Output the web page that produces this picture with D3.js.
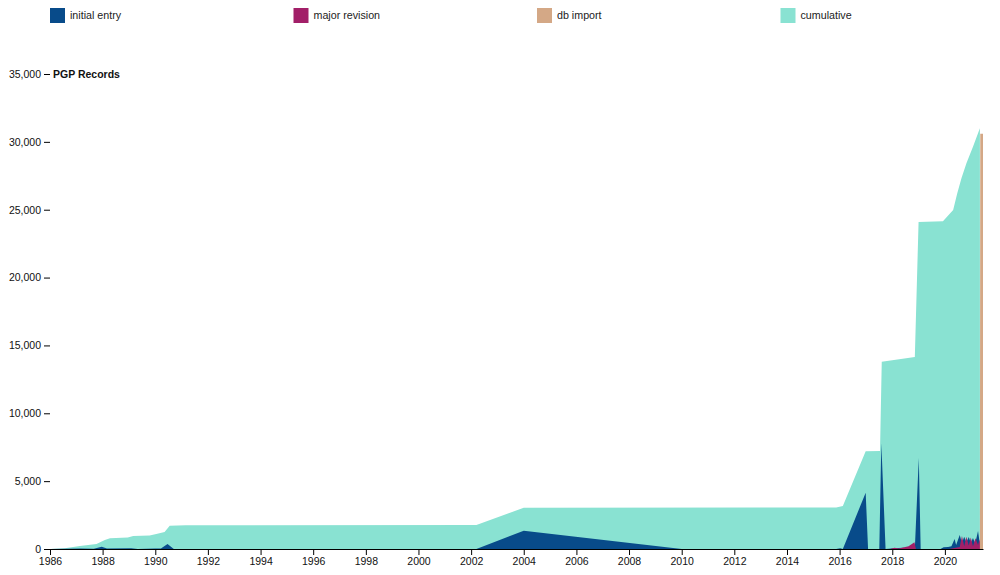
<!DOCTYPE html>
<html>
<head>
<meta charset="utf-8">
<script src="https://cdn.jsdelivr.net/npm/d3@7"></script>
<style>
  html, body { margin: 0; padding: 0; background: #fff; }
  svg { display: block; font-family: "Liberation Sans", Arial, Helvetica, sans-serif; }
</style>
</head>
<body>
<svg id="chart" width="1000" height="575"></svg>
<script>
// ---------- data ----------
const seriesNames = ["initial entry", "major revision", "db import", "cumulative"];
const seriesColors = ["#084b8a", "#a21f68", "#d4a886", "#89e2d2"];

const cumulativeDates = ["1986-01-01","1986-07-25","1987-02-20","1987-10-08","1988-02-01","1988-04-12","1988-12-15","1989-03-01","1989-10-15","1990-01-15","1990-05-10","1990-07-20","1991-03-01","2002-03-15","2004-01-01","2015-11-15","2016-02-15","2016-12-28","2017-07-15","2017-08-08","2018-11-10","2019-01-01","2019-12-05","2020-04-25","2020-06-20","2020-08-18","2020-10-26","2021-01-25","2021-04-10","2021-05-01"];
const cumulativeValues = [0,50,220,370,660,800,850,960,990,1100,1250,1720,1750,1760,3040,3060,3170,7200,7230,13800,14150,24100,24150,24970,26200,27320,28430,29640,30700,31000];

const entryDates = ["1986-01-01","1986-08-01","1987-03-01","1987-09-01","1987-12-20","1988-03-01","1989-02-01","1989-05-01","1990-01-01","1990-03-20","1990-06-20","1990-09-15","2002-03-15","2004-01-01","2010-01-01","2015-11-15","2016-01-10","2016-02-15","2016-12-28","2017-01-30","2017-07-05","2017-08-02","2017-09-30","2018-02-01","2018-06-01","2018-11-10","2019-01-04","2019-01-30","2019-11-01","2019-12-15","2020-02-15","2020-04-01","2020-05-15","2020-06-05","2020-07-25","2020-08-25","2020-09-25","2020-10-25","2020-11-28","2020-12-25","2021-01-25","2021-02-25","2021-04-05","2021-05-10"];
const entryValues = [0,20,30,20,170,30,60,0,40,30,370,0,0,1350,0,0,60,0,4150,0,0,7800,0,60,100,0,6700,0,0,120,150,200,740,300,1030,450,900,500,880,450,810,400,1330,0];

const revisionDates = ["1986-01-01","2017-12-01","2018-02-01","2018-04-01","2018-08-15","2018-11-05","2018-11-25","2020-03-01","2020-07-25","2020-08-25","2020-09-25","2020-10-25","2020-11-28","2020-12-25","2021-01-25","2021-03-01","2021-04-05","2021-04-25","2021-05-20"];
const revisionValues = [0,0,100,40,200,500,0,0,150,950,200,900,250,850,200,800,300,700,0];

const importDates = ["1986-01-01","2021-05-01","2021-05-06","2021-06-13"];
const importValues = [0,0,30600,30600];

const yTickLabelTitle = "PGP Records";

// ---------- build ----------
const parse = d3.utcParse("%Y-%m-%d");
const toPoints = (dates, values) => dates.map((d, i) => ({date: parse(d), value: values[i]}));
const series = [
  {name: seriesNames[3], color: seriesColors[3], points: toPoints(cumulativeDates, cumulativeValues)},
  {name: seriesNames[0], color: seriesColors[0], points: toPoints(entryDates, entryValues)},
  {name: seriesNames[1], color: seriesColors[1], points: toPoints(revisionDates, revisionValues)},
  {name: seriesNames[2], color: seriesColors[2], points: toPoints(importDates, importValues)}
];

const width = 1000, height = 575;
const margin = {top: 74, right: 17, bottom: 26, left: 50};

const allDates = series.flatMap(s => s.points.map(p => p.date));
const x = d3.scaleUtc()
  .domain(d3.extent(allDates))
  .range([margin.left, width - margin.right]);

const y = d3.scaleLinear()
  .domain([0, d3.max(cumulativeValues)]).nice()
  .range([height - margin.bottom, margin.top]);

const svg = d3.select("#chart");

const area = d3.area()
  .x(d => x(d.date))
  .y0(y(0))
  .y1(d => y(d.value));

svg.append("g")
  .selectAll("path")
  .data(series)
  .join("path")
  .attr("fill", d => d.color)
  .attr("d", d => area(d.points));

// x axis
svg.append("g")
  .attr("transform", `translate(0,${height - margin.bottom})`)
  .call(d3.axisBottom(x).ticks(d3.utcYear.every(2)).tickFormat(d3.utcFormat("%Y")).tickSizeOuter(0))
  .call(g => g.selectAll("text").attr("font-size", 10.5).attr("fill", "#111"));

// y axis
svg.append("g")
  .attr("transform", `translate(${margin.left},0)`)
  .call(d3.axisLeft(y).tickFormat(d3.format(",")))
  .call(g => g.select(".domain").remove())
  .call(g => g.selectAll("text").attr("font-size", 10.5).attr("fill", "#111"))
  .call(g => g.select(".tick:last-of-type text").clone()
      .attr("x", 3)
      .attr("text-anchor", "start")
      .attr("font-weight", "bold")
      .text(yTickLabelTitle));

// legend
const legendOrder = [0, 1, 2, 3];
const legend = svg.append("g")
  .selectAll("g")
  .data(legendOrder)
  .join("g")
  .attr("transform", (d, i) => `translate(${50 + i * 243.5},8)`);
legend.append("rect")
  .attr("width", 15).attr("height", 15)
  .attr("fill", d => seriesColors[d]);
legend.append("text")
  .attr("x", 20).attr("y", 7.5).attr("dy", "0.35em")
  .attr("font-size", 10.7)
  .attr("fill", "#222")
  .text(d => seriesNames[d]);
</script>
</body>
</html>
